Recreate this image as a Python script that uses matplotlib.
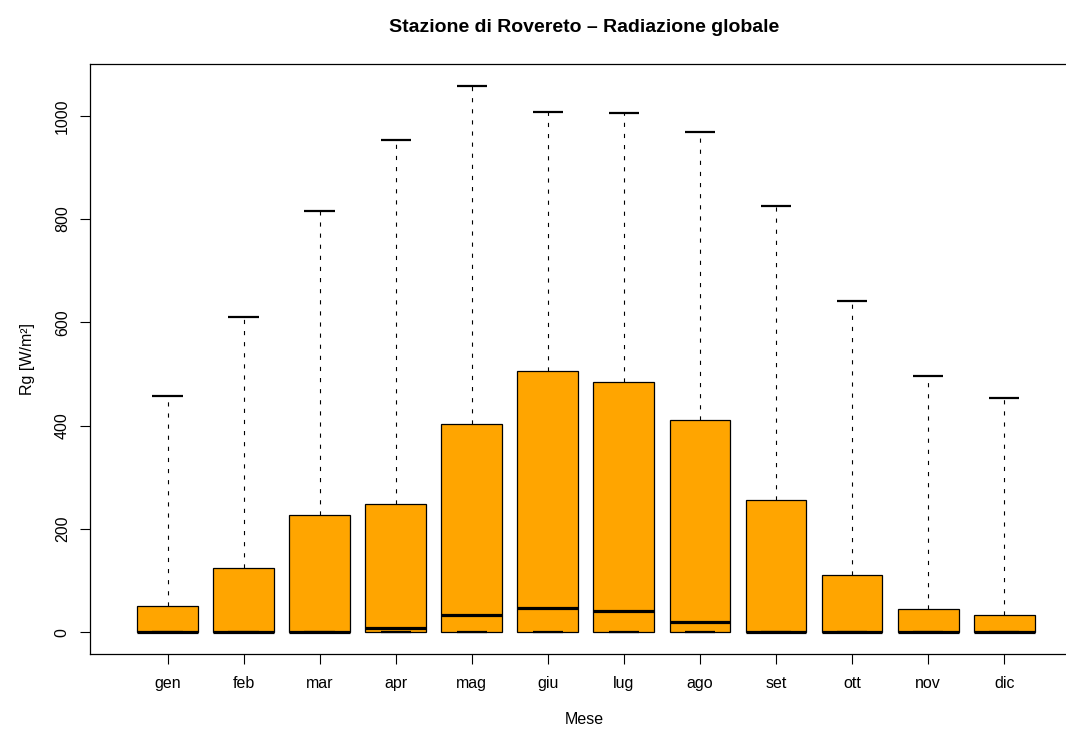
import matplotlib
matplotlib.use("Agg")
import matplotlib.pyplot as plt

# -----------------------------
# Data
# -----------------------------
mesi = ["gen", "feb", "mar", "apr", "mag", "giu",
        "lug", "ago", "set", "ott", "nov", "dic"]
rg_min = [0, 0, 0, 0, 0, 0, 0, 0, 0, 0, 0, 0]
rg_q1 = [0, 0, 0, 0, 0, 0, 0, 0, 0, 0, 0, 0]
rg_med = [0, 0, 0, 8, 33, 47, 41, 19, 0, 0, 0, 0]
rg_q3 = [50, 124, 227, 249, 404, 505, 485, 410, 256, 111, 45, 33]
rg_max = [458, 610, 815, 953, 1058, 1008, 1006, 969, 825, 641, 497, 454]

plt.rcParams['font.family'] = ['Liberation Sans', 'DejaVu Sans']
plt.rcParams['lines.scale_dashes'] = False

stats = []
for i in range(len(mesi)):
    stats.append({
        'label': mesi[i],
        'whislo': rg_min[i],
        'q1': rg_q1[i],
        'med': rg_med[i],
        'q3': rg_q3[i],
        'whishi': rg_max[i],
        'fliers': [],
    })

# -----------------------------
# Boxplot
# -----------------------------
fig = plt.figure(figsize=(10.66, 7.31), dpi=100)
ax = fig.add_axes([0.0844, 0.1053, 0.9275, 0.8071])

ax.bxp(stats, positions=range(1, len(mesi) + 1), widths=0.8, capwidths=0.4,
       patch_artist=True, showfliers=False,
       boxprops=dict(facecolor='#FFA500', edgecolor='black', linewidth=0.9),
       medianprops=dict(color='black', linewidth=2.3, solid_capstyle='butt'),
       whiskerprops=dict(color='black', linewidth=0.8, linestyle=(0, (3, 5))),
       capprops=dict(color='black', linewidth=1.6, solid_capstyle='butt'))

ax.set_xlim(-0.02, 12.98)
ax.set_ylim(-42.3, 1100.3)
ax.set_yticks([0, 200, 400, 600, 800, 1000])
ax.set_xticks(range(1, len(mesi) + 1))
ax.set_xticklabels(mesi)

for s in ax.spines.values():
    s.set_color('black')
    s.set_linewidth(0.9)
ax.spines['right'].set_visible(False)

ax.tick_params(axis='both', direction='out', length=7, width=0.8,
               labelsize=11.5, color='black')
ax.tick_params(axis='x', pad=9)
ax.tick_params(axis='y', pad=7.5)
for lab in ax.get_yticklabels():
    lab.set_rotation(90)
    lab.set_va('center')

ax.set_title("Stazione di Rovereto \u2013 Radiazione globale",
             fontsize=14, fontweight='bold', pad=23)
ax.set_xlabel("Mese", fontsize=11.5, labelpad=15)
ax.set_ylabel("Rg [W/m\u00b2]", fontsize=11.5, labelpad=14)

plt.savefig("out.png", dpi=100)
